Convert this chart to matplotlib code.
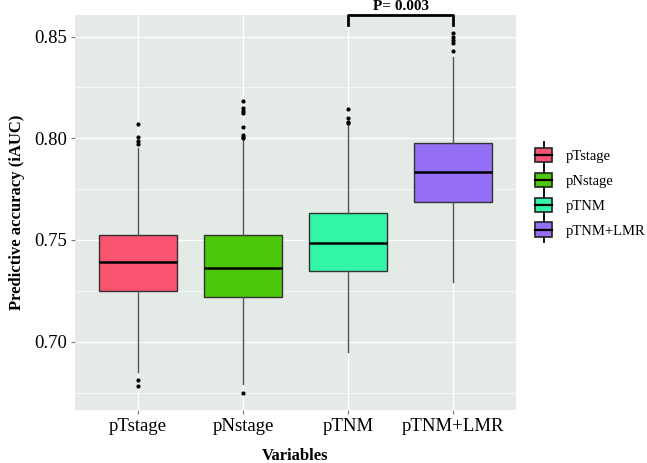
import matplotlib
matplotlib.use("Agg")
import matplotlib.pyplot as plt
from matplotlib.patches import Rectangle
from matplotlib.lines import Line2D
from matplotlib.legend_handler import HandlerBase
from matplotlib.ticker import MultipleLocator

plt.rcParams['font.family'] = ['Liberation Serif', 'DejaVu Serif']

# data
groups = ["pTstage", "pNstage", "pTNM", "pTNM+LMR"]
q1 = [0.7247, 0.7218, 0.7349, 0.7688]
med = [0.7392, 0.7361, 0.7487, 0.7833]
q3 = [0.7525, 0.7525, 0.7634, 0.7975]
whislo = [0.6853, 0.6792, 0.6951, 0.7295]
whishi = [0.7950, 0.7992, 0.8069, 0.8401]
fliers = [
    [0.6813, 0.6784, 0.7970, 0.7985, 0.8005, 0.8069],
    [0.6749, 0.8000, 0.8008, 0.8016, 0.8057, 0.8123, 0.8136, 0.8147, 0.8183],
    [0.8073, 0.8082, 0.8098, 0.8144],
    [0.8431, 0.8467, 0.8483, 0.8500, 0.8519],
]
colors = ["#F8536F", "#4BC80A", "#33F5A8", "#946EF5"]
p_text = "P= 0.003"

fig = plt.figure(figsize=(6.47, 4.63), dpi=100)
ax = fig.add_axes([75/647, 53/463, 441/647, 395/463])
ax.set_facecolor("#E4EBE7")
for s in ax.spines.values():
    s.set_visible(False)

stats = []
for i, g in enumerate(groups):
    stats.append(dict(label=g, q1=q1[i], med=med[i], q3=q3[i],
                      whislo=whislo[i], whishi=whishi[i], fliers=fliers[i]))

pos = list(range(1, len(groups) + 1))
bp = ax.bxp(stats, positions=pos, widths=0.75, patch_artist=True, showcaps=False,
            boxprops=dict(edgecolor="#333333", linewidth=1.0),
            medianprops=dict(color="black", linewidth=1.8),
            whiskerprops=dict(color="#4D5757", linewidth=1.0),
            flierprops=dict(marker="o", markersize=2, markerfacecolor="black",
                            markeredgecolor="black"))
for patch, c in zip(bp["boxes"], colors):
    patch.set_facecolor(c)
for artist in bp["boxes"] + bp["medians"] + bp["whiskers"] + bp["fliers"]:
    artist.set_zorder(3)

ax.set_xlim(0.4, 4.6)
ax.set_ylim(0.6664, 0.8606)
ax.set_xticks(pos)
ax.set_xticklabels(groups)
ax.yaxis.set_major_locator(MultipleLocator(0.05))
ax.yaxis.set_minor_locator(MultipleLocator(0.025))
ax.yaxis.set_major_formatter(matplotlib.ticker.FormatStrFormatter("%.2f"))
ax.grid(True, which="major", color="white", linewidth=0.9, zorder=0)
ax.grid(True, which="minor", axis="y", color="white", linewidth=0.5, zorder=0)
ax.set_axisbelow(True)
ax.tick_params(axis="both", which="major", length=3, width=0.8, color="#777777",
               labelsize=13.5, labelcolor="black", pad=3)
ax.tick_params(axis="y", which="minor", length=0)

ax.set_xlabel("Variables", fontsize=12, fontweight="bold", labelpad=9)
ax.set_ylabel("Predictive accuracy (iAUC)", fontsize=12, fontweight="bold", labelpad=6)

# significance bracket
ytop = 0.8606
ax.plot([3, 3, 4, 4], [ytop - 0.005, ytop, ytop, ytop - 0.005], color="black",
        linewidth=2, clip_on=False, zorder=5)
ax.text(3.5, ytop + 0.0012, p_text, ha="center", va="bottom", fontsize=11,
        fontweight="bold")


class BoxHandler(HandlerBase):
    def create_artists(self, legend, orig_handle, xdescent, ydescent, width, height,
                       fontsize, trans):
        cx = width / 2 - xdescent
        bw = width * 0.95
        bh = height * 0.95
        by = (height - bh) / 2 - ydescent
        wl1 = Line2D([cx, cx], [-ydescent - 3.6, by], color="black", linewidth=1.3,
                     transform=trans)
        wl2 = Line2D([cx, cx], [by + bh, height - ydescent + 3.6], color="black",
                     linewidth=1.3, transform=trans)
        r = Rectangle((cx - bw / 2, by), bw, bh, facecolor=orig_handle.get_facecolor(),
                      edgecolor="#222222", linewidth=1.2, transform=trans)
        m = Line2D([cx - bw / 2, cx + bw / 2], [by + bh / 2, by + bh / 2], color="black",
                   linewidth=1.6, transform=trans)
        return [wl1, wl2, r, m]


handles = [Rectangle((0, 0), 1, 1, facecolor=c) for c in colors]
leg = fig.legend(handles, groups, loc="center left",
                 bbox_to_anchor=(530.6/647, 1 - 192.5/463), frameon=False, fontsize=10.5,
                 handler_map={Rectangle: BoxHandler()}, handlelength=1.2,
                 handleheight=1.2, labelspacing=0.65, handletextpad=0.9,
                 borderaxespad=0.0, borderpad=0.3)

fig.savefig("out.png", dpi=100)
